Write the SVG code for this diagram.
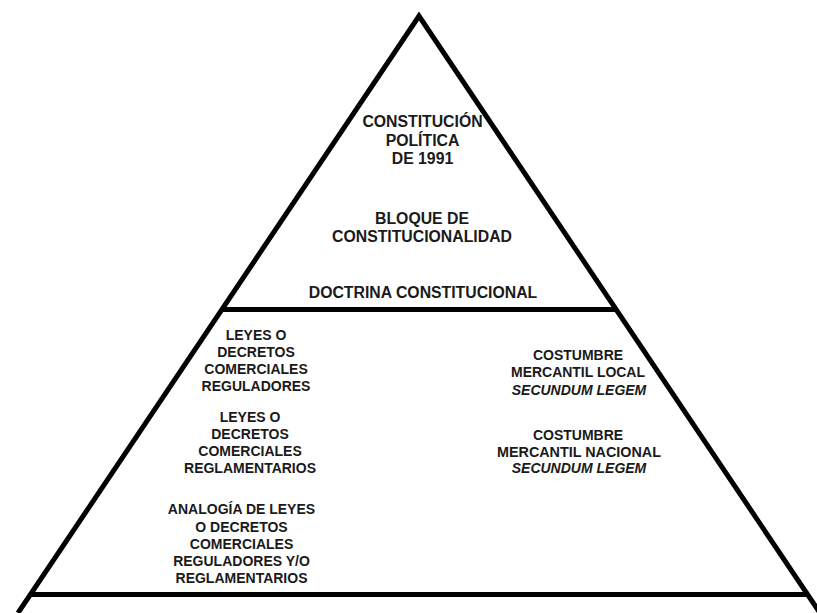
<svg xmlns="http://www.w3.org/2000/svg" width="817" height="613" viewBox="0 0 817 613">
<style>
.ln{fill:none;stroke:#000;stroke-width:5;stroke-linejoin:miter}
text{font-family:"Liberation Sans",Arial,sans-serif;font-weight:bold;font-size:14px;fill:#1a1a1a;text-anchor:middle}
.top{font-size:15.8px}
.it{font-style:italic}
</style>
<rect width="817" height="613" fill="#fff"/>
<g id="pyramid">
<path class="ln" d="M18,613 L419,16 L820,613"/>
<line class="ln" x1="222" y1="309.5" x2="616" y2="309.5"/>
<line class="ln" x1="30" y1="594.5" x2="808" y2="594.5"/>
</g>
<g id="constitucion" class="top">
<text class="top" x="422.5" y="127">CONSTITUCIÓN</text>
<text class="top" x="422.5" y="145.5">POLÍTICA</text>
<text class="top" x="422.5" y="164">DE 1991</text>
</g>
<g id="bloque">
<text class="top" x="422" y="223.5">BLOQUE DE</text>
<text class="top" x="422" y="241.5">CONSTITUCIONALIDAD</text>
</g>
<g id="doctrina">
<text class="top" x="423" y="297.5">DOCTRINA CONSTITUCIONAL</text>
</g>
<g id="reguladores">
<text x="256" y="340">LEYES O</text>
<text x="256" y="357">DECRETOS</text>
<text x="256" y="374">COMERCIALES</text>
<text x="256" y="391">REGULADORES</text>
</g>
<g id="reglamentarios">
<text x="250" y="422">LEYES O</text>
<text x="250" y="439">DECRETOS</text>
<text x="250" y="456">COMERCIALES</text>
<text x="250" y="473">REGLAMENTARIOS</text>
</g>
<g id="analogia">
<text x="241.5" y="514">ANALOGÍA DE LEYES</text>
<text x="241.5" y="531.5">O DECRETOS</text>
<text x="241.5" y="548.5">COMERCIALES</text>
<text x="241.5" y="566">REGULADORES Y/O</text>
<text x="241.5" y="583">REGLAMENTARIOS</text>
</g>
<g id="costumbre-local">
<text x="578" y="360">COSTUMBRE</text>
<text x="578" y="377" textLength="134" lengthAdjust="spacingAndGlyphs">MERCANTIL LOCAL</text>
<text x="579" y="394.5" class="it">SECUNDUM LEGEM</text>
</g>
<g id="costumbre-nacional">
<text x="578" y="439.5">COSTUMBRE</text>
<text x="579" y="457" textLength="164" lengthAdjust="spacingAndGlyphs">MERCANTIL NACIONAL</text>
<text x="579" y="472.5" class="it">SECUNDUM LEGEM</text>
</g>
<g id="connectors"></g>
</svg>
